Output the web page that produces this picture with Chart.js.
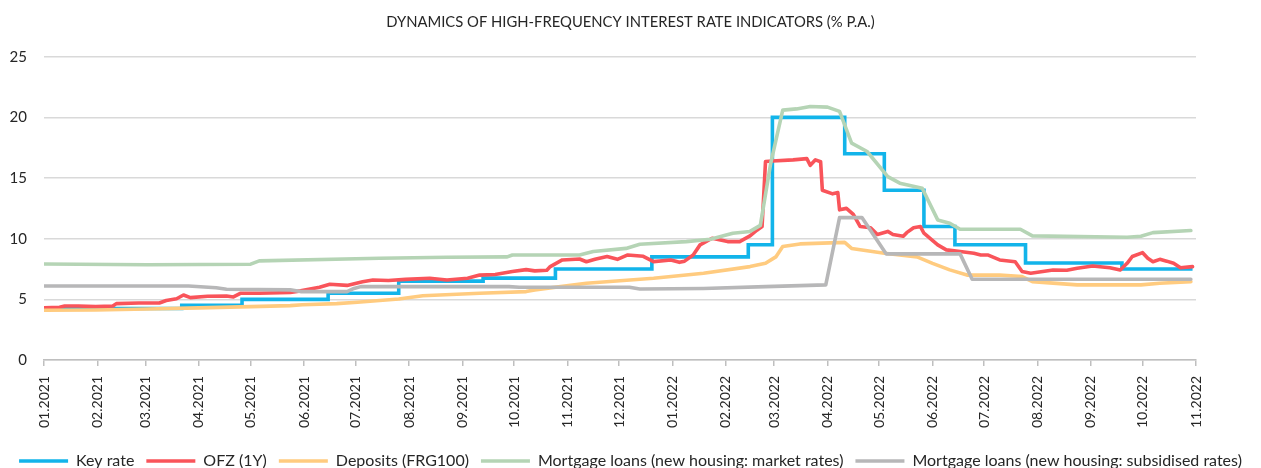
<!DOCTYPE html>
<html>
<head>
<meta charset="utf-8">
<script src="https://cdn.jsdelivr.net/npm/chart.js@4/dist/chart.umd.min.js"></script>
<style>
  html, body { margin: 0; padding: 0; background: #ffffff; overflow: hidden; }
  #wrap { width: 1261px; height: 468px; overflow: hidden; }
</style>
</head>
<body>
<div id="wrap"><canvas id="c" width="1261" height="479"></canvas></div>
<script>
// ---- Data (x = days since 01.01.2021) ----
const monthDays = [0, 31, 59, 90, 120, 151, 181, 212, 243, 273, 304, 334, 365, 396, 424, 455, 485, 516, 546, 577, 608, 638, 669];
const monthLabels = ['01.2021','02.2021','03.2021','04.2021','05.2021','06.2021','07.2021','08.2021','09.2021','10.2021','11.2021','12.2021',
                     '01.2022','02.2022','03.2022','04.2022','05.2022','06.2022','07.2022','08.2022','09.2022','10.2022','11.2022'];
const yTicks = [0, 5, 10, 15, 20, 25];

const keyRateDays   = [0, 80, 115, 165, 206, 255, 297, 353, 409, 423, 465, 488, 511, 529, 570, 626, 667];
const keyRateValues = [4.25, 4.5, 5.0, 5.5, 6.5, 6.75, 7.5, 8.5, 9.5, 20, 17, 14, 11, 9.5, 8.0, 7.5, 7.5];

const ofzDays   = [0, 9, 12, 20, 30, 40, 42, 55, 67, 71, 77, 81, 85, 95, 106, 110, 114, 125, 143, 149, 160, 166, 176, 185, 191, 200, 210, 224, 234, 246, 253, 262, 272, 280, 285, 292,
                   294, 301, 311, 315, 320, 327, 333, 339, 348, 354, 364, 369, 372, 377, 381, 388, 397, 404, 410, 414, 417,
                   419, 423, 435, 443, 445, 448, 451, 452, 458, 461, 462, 466, 470, 474, 480, 484, 490, 493, 499, 501, 505, 509, 511,
                   519, 524, 532, 540, 544, 548, 555, 564, 568, 573, 586, 594, 600, 609, 619, 625, 629, 632, 638, 641, 644, 648, 652, 656, 660, 667];
const ofzValues = [4.3, 4.35, 4.45, 4.45, 4.4, 4.45, 4.65, 4.7, 4.7, 4.9, 5.05, 5.36, 5.14, 5.25, 5.28, 5.2, 5.5, 5.5, 5.56, 5.7, 6.0, 6.24, 6.15, 6.45, 6.6, 6.55, 6.65, 6.74, 6.6, 6.74, 7.0, 7.05, 7.29, 7.45, 7.35, 7.4,
                   7.7, 8.25, 8.33, 8.1, 8.3, 8.53, 8.3, 8.66, 8.55, 8.11, 8.25, 8.05, 8.15, 8.66, 9.49, 10.04, 9.76, 9.76, 10.23, 10.7, 11.0,
                   16.36, 16.4, 16.5, 16.6, 16.05, 16.5, 16.35, 14.0, 13.7, 13.8, 12.38, 12.5, 12.0, 11.0, 10.9, 10.35, 10.6, 10.35, 10.2, 10.5, 10.9, 11.0, 10.45,
                   9.49, 9.08, 8.94, 8.8, 8.66, 8.66, 8.25, 8.1, 7.29, 7.15, 7.42, 7.4, 7.56, 7.75, 7.6, 7.42, 7.97, 8.53, 8.85, 8.39, 8.1, 8.3, 8.15, 7.97, 7.6, 7.7];

const depositDays   = [0, 30, 60, 90, 120, 143, 150, 170, 182, 206, 220, 253, 280, 285, 315, 354, 383, 410, 419, 425, 429, 439, 465, 469, 488, 507, 516, 526, 536, 555, 568, 574, 600, 637, 648, 666];
const depositValues = [4.1, 4.12, 4.2, 4.3, 4.4, 4.48, 4.55, 4.65, 4.76, 5.03, 5.3, 5.5, 5.64, 5.78, 6.33, 6.74, 7.15, 7.7, 7.97, 8.5, 9.35, 9.57, 9.7, 9.2, 8.8, 8.5, 7.97, 7.43, 7.0, 7.0, 6.88, 6.46, 6.19, 6.19, 6.33, 6.46];

const mortgageMarketDays   = [0, 60, 120, 125, 195, 234, 269, 272, 311, 319, 338, 346, 373, 387, 400, 410, 416, 422, 429, 437, 445, 455, 462, 469, 478, 490, 497, 510, 519, 526, 532, 567, 574, 629, 637, 644, 666];
const mortgageMarketValues = [7.92, 7.85, 7.9, 8.17, 8.39, 8.47, 8.5, 8.66, 8.66, 8.94, 9.2, 9.54, 9.76, 9.96, 10.45, 10.6, 11.1, 16.2, 20.6, 20.7, 20.9, 20.85, 20.5, 17.88, 17.19, 15.12, 14.58, 14.16, 11.55, 11.28, 10.78, 10.78, 10.23, 10.12, 10.2, 10.5, 10.67];

const mortgageSubsDays   = [0, 84, 100, 106, 143, 149, 176, 180, 184, 270, 276, 340, 346, 383, 419, 454, 462, 475, 489, 532, 539, 666];
const mortgageSubsValues = [6.1, 6.1, 5.95, 5.83, 5.78, 5.64, 5.64, 5.9, 6.05, 6.05, 6.0, 6.0, 5.85, 5.9, 6.05, 6.19, 11.74, 11.74, 8.75, 8.75, 6.66, 6.66];

const seriesNames = ['Key rate', 'OFZ (1Y)', 'Deposits (FRG100)', 'Mortgage loans (new housing: market rates)', 'Mortgage loans (new housing: subsidised rates)'];
const chartTitle = 'DYNAMICS OF HIGH-FREQUENCY INTEREST RATE INDICATORS (% P.A.)';

// ---- Build ----
const pts = (xs, ys) => xs.map((x, i) => ({ x: x, y: ys[i] }));
const FONT = 'Lato, "Open Sans", sans-serif';
const colors = ['#12b4ea', '#f9545a', '#ffcb7f', '#b5d4b5', '#b7b7b8'];

function ds(i, xs, ys, extra) {
  return Object.assign({
    label: seriesNames[i],
    data: pts(xs, ys),
    borderColor: colors[i],
    backgroundColor: colors[i],
    borderWidth: 3.6,
    pointRadius: 0,
    pointHoverRadius: 0,
    tension: 0,
    borderJoinStyle: 'round',
    borderCapStyle: 'round',
    order: 5 - i
  }, extra || {});
}

new Chart(document.getElementById('c'), {
  type: 'line',
  data: {
    datasets: [
      ds(0, keyRateDays, keyRateValues, { stepped: 'before', borderCapStyle: 'butt', borderJoinStyle: 'miter' }),
      ds(1, ofzDays, ofzValues),
      ds(2, depositDays, depositValues),
      ds(3, mortgageMarketDays, mortgageMarketValues),
      ds(4, mortgageSubsDays, mortgageSubsValues)
    ]
  },
  options: {
    responsive: false,
    animation: false,
    layout: { padding: 0 },
    plugins: {
      title: {
        display: true,
        text: chartTitle,
        color: '#262626',
        font: { family: FONT, size: 14.8, weight: 'normal' },
        padding: { top: 13, bottom: 26 }
      },
      legend: {
        position: 'bottom',
        labels: {
          usePointStyle: true,
          pointStyle: 'line',
          pointStyleWidth: 49,
          color: '#262626',
          font: { family: FONT, size: 16 },
          padding: 12,
          sort: (a, b) => a.datasetIndex - b.datasetIndex
        }
      },
      tooltip: { enabled: false }
    },
    scales: {
      x: {
        type: 'linear',
        min: 0,
        max: 669,
        afterBuildTicks: (s) => { s.ticks = monthDays.map(v => ({ value: v })); },
        afterFit: (s) => { s.height = 81; },
        grid: { drawOnChartArea: false, drawTicks: true, tickLength: 6, color: '#bfbfbf', lineWidth: 1.5 },
        border: { display: true, color: '#bfbfbf', width: 1.5 },
        ticks: {
          autoSkip: false,
          maxRotation: 90,
          minRotation: 90,
          padding: 10,
          color: '#262626',
          font: { family: FONT, size: 14 },
          callback: (v, i) => monthLabels[i]
        }
      },
      y: {
        min: 0,
        max: 25,
        afterBuildTicks: (s) => { s.ticks = yTicks.map(v => ({ value: v })); },
        afterFit: (s) => { s.width = 44; },
        grid: { color: '#d9d9d9', lineWidth: 1.5, drawTicks: false },
        border: { display: false },
        ticks: { padding: 17, color: '#262626', font: { family: FONT, size: 15 } }
      },
      yRight: {
        position: 'right',
        display: true,
        afterFit: (s) => { s.width = 65; },
        grid: { display: false, drawTicks: false },
        border: { display: false },
        ticks: { display: false }
      }
    }
  }
});
</script>
</body>
</html>
